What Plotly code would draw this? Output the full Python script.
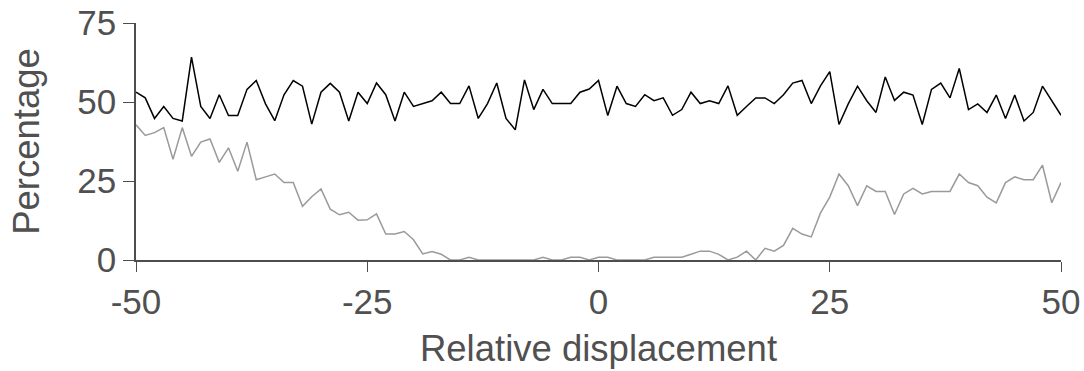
import plotly.graph_objects as go

# Relative displacement positions (-50 .. 50)
displacement = list(range(-50, 51))

# Percentage for the upper (black) series
upper_pct = [
    53.1, 51.3, 44.8, 48.6, 44.8, 44.0, 64.2, 48.6, 44.8, 52.3,
    45.7, 45.7, 54.0, 56.8, 49.4, 44.1, 52.3, 56.8, 55.0, 43.0,
    53.1, 55.9, 53.1, 44.0, 53.1, 49.5,
    56.0, 52.3, 44.0, 53.1, 48.6, 49.5, 50.4, 53.1, 49.5, 49.5,
    55.1, 44.8, 49.5, 56.0, 44.8, 41.2, 57.0, 47.6, 54.0, 49.5,
    49.5, 49.5, 53.1, 54.1, 56.8,
    45.7, 55.0, 49.5, 48.6, 52.3, 50.4, 51.3, 45.8, 47.6, 53.1,
    49.5, 50.4, 49.5, 55.1, 45.8, 48.6, 51.3, 51.3, 49.5, 52.3,
    56.0, 56.8, 49.5, 55.1, 59.6,
    42.9, 49.4, 55.0, 50.4, 46.7, 57.9, 50.5, 53.1, 52.2, 42.9,
    54.0, 56.0, 51.3, 60.6, 47.6, 49.4, 46.7, 52.2, 44.8, 52.2,
    44.0, 46.7, 55.0, 50.5, 45.8,
]

# Percentage for the lower (grey) series
lower_pct = [
    42.8, 39.4, 40.3, 41.9, 31.9, 41.9, 32.8, 37.3, 38.3, 30.9,
    35.5, 28.1, 37.3, 25.4, 26.3, 27.2, 24.5, 24.5, 17.0, 20.0,
    22.5, 16.1, 14.3, 15.1, 12.6,
    12.7, 14.6, 8.2, 8.2, 9.0, 6.4, 1.9, 2.7, 1.8, 0.0,
    0.0, 0.9, 0.0, 0.0, 0.0, 0.0, 0.0, 0.0, 0.0, 0.9,
    0.0, 0.0, 0.9, 0.9, 0.0, 0.9,
    0.9, 0.0, 0.0, 0.0, 0.0, 0.9, 0.9, 0.9, 0.9, 1.8,
    2.8, 2.8, 1.8, 0.0, 0.9, 2.8, 0.0, 3.7, 2.8, 4.6,
    10.0, 8.2, 7.3, 14.9, 19.9,
    27.2, 23.5, 17.2, 23.5, 21.7, 21.7, 14.4, 20.9, 22.7, 20.9,
    21.7, 21.7, 21.7, 27.2, 24.5, 23.5, 19.9, 18.1, 24.5, 26.3,
    25.4, 25.4, 30.0, 18.1, 24.5,
]

x_ticks = [-50, -25, 0, 25, 50]
y_ticks = [0, 25, 50, 75]

FONT = "Liberation Sans, Arial, sans-serif"
AXIS_COLOR = "#4d4d4d"
TEXT_COLOR = "#505050"

fig = go.Figure()
fig.add_trace(go.Scatter(
    x=displacement, y=upper_pct, mode="lines",
    line=dict(color="#000000", width=1.5), showlegend=False,
))
fig.add_trace(go.Scatter(
    x=displacement, y=lower_pct, mode="lines",
    line=dict(color="#9a9a9a", width=1.5), showlegend=False,
))

fig.update_layout(
    width=1084, height=371,
    margin=dict(l=136, r=23, t=23, b=111),
    paper_bgcolor="white", plot_bgcolor="white",
    font=dict(family=FONT, color=TEXT_COLOR, size=35),
    xaxis=dict(
        range=[-50, 50], tickvals=x_ticks, ticktext=[str(v) for v in x_ticks],
        automargin=False,
        showgrid=False, zeroline=False,
        showline=True, linecolor=AXIS_COLOR, linewidth=1.5,
        ticks="outside", ticklen=10, tickwidth=1, tickcolor=AXIS_COLOR,
        tickfont=dict(size=35, color=TEXT_COLOR),
        title=dict(text="Relative displacement", font=dict(size=36.5, color=TEXT_COLOR), standoff=16),
    ),
    yaxis=dict(
        range=[0, 75], tickvals=y_ticks, ticktext=[str(v) for v in y_ticks],
        automargin=False,
        showgrid=False, zeroline=False,
        showline=True, linecolor=AXIS_COLOR, linewidth=1.5,
        ticks="outside", ticklen=11, tickwidth=1, tickcolor=AXIS_COLOR,
        tickfont=dict(size=35, color=TEXT_COLOR),
        title=dict(text="Percentage", font=dict(size=36.5, color=TEXT_COLOR), standoff=27),
    ),
)

fig.write_html("out.html")
